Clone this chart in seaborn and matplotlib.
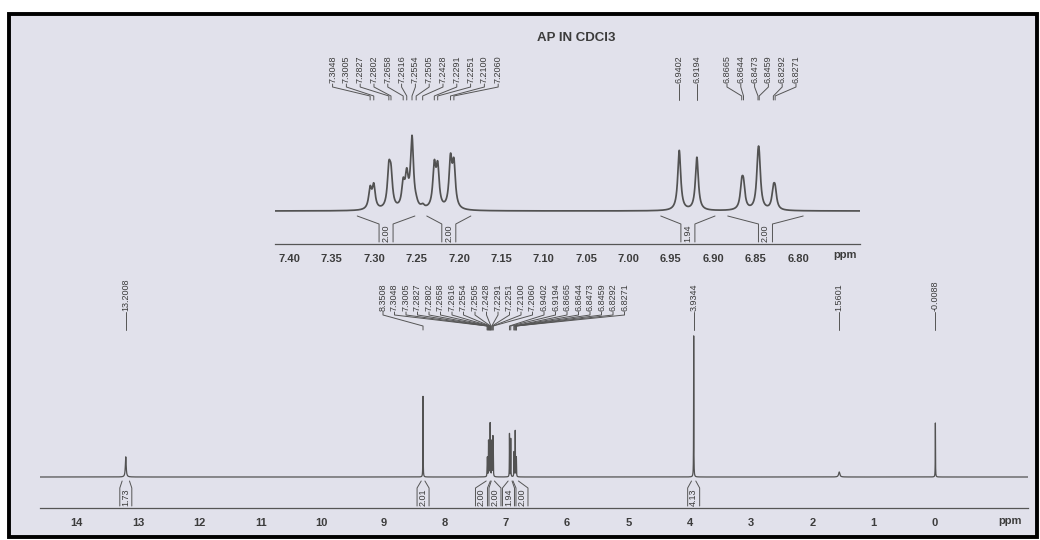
import numpy as np
import pandas as pd
import matplotlib
matplotlib.use("Agg")
import matplotlib.pyplot as plt
from matplotlib.patches import Rectangle
from matplotlib.ticker import MultipleLocator, FormatStrFormatter
import seaborn as sns

# ----------------------------------------------------------------------
# peak list (shift ppm, height, half width ppm)
# ----------------------------------------------------------------------
shifts = [13.2008, 8.3508,
          7.3048, 7.3005, 7.2827, 7.2802, 7.2658, 7.2616, 7.2554,
          7.2505, 7.2428, 7.2291, 7.2251, 7.2100, 7.2060,
          6.9402, 6.9194, 6.8665, 6.8644, 6.8473, 6.8459, 6.8292, 6.8271,
          3.9344, 1.5601, -0.0088]
heights = [28, 112,
           20, 23, 36, 30, 23, 30, 70,
           3, 3, 41, 39, 47, 42,
           60, 53, 22, 21, 36, 35, 17, 17,
           196, 7, 75]
halfwidths = [0.008, 0.0021,
              0.0021, 0.0021, 0.0021, 0.0021, 0.0021, 0.0021, 0.0021,
              0.0021, 0.0021, 0.0021, 0.0021, 0.0021, 0.0021,
              0.0021, 0.0021, 0.0021, 0.0021, 0.0021, 0.0021, 0.0021, 0.0021,
              0.0021, 0.012, 0.0021]

# integrals (start ppm, end ppm, value)
main_int_start = [13.26, 8.38, 7.320, 7.238, 6.962, 6.883, 3.97]
main_int_end = [13.14, 8.32, 7.252, 7.186, 6.898, 6.794, 3.90]
main_int_val = ["1.73", "2.01", "2.00", "2.00", "1.94", "2.00", "4.13"]

zoom_int_start = [7.320, 7.238, 6.962, 6.883]
zoom_int_end = [7.252, 7.186, 6.898, 6.794]
zoom_int_val = ["2.00", "2.00", "1.94", "2.00"]

title = "AP IN CDCl3"
zoom_lo, zoom_hi = 6.727, 7.417
main_lo, main_hi = -1.52, 14.60

INK = "#3c3c3c"
LINE = "#525252"
PAPER = "#e1e1eb"


def spectrum(lo, hi, step):
    x = np.concatenate([np.arange(lo, hi, step),
                        [s for s in shifts if lo < s < hi]])
    x = np.sort(x)[::-1]
    y = np.zeros_like(x)
    for s, h, w in zip(shifts, heights, halfwidths):
        y += h / (1 + ((x - s) / w) ** 2)
    return pd.DataFrame({"ppm": x, "intensity": y})


def spread(xs, gap, offset=0.0):
    # place labels in px so that neighbours are at least `gap` apart
    xs = list(xs)
    groups = [[i] for i in np.argsort(xs)]
    while True:
        spans = []
        for g in groups:
            c = np.mean([xs[i] for i in g])
            if len(g) > 1:
                c += offset
            s = c - gap * (len(g) - 1) / 2
            spans.append((s, s + gap * (len(g) - 1)))
        for k in range(len(groups) - 1):
            if spans[k + 1][0] - spans[k][1] < gap:
                groups[k] = groups[k] + groups.pop(k + 1)
                break
        else:
            break
    out = np.zeros(len(xs))
    for g, (s, _) in zip(groups, spans):
        for j, i in enumerate(g):
            out[i] = s + gap * j
    return out


sns.set_style("white")
plt.rcParams["font.family"] = ["Liberation Sans", "DejaVu Sans"]
NARROW = ["Liberation Sans Narrow", "Liberation Sans", "DejaVu Sans"]

fig = plt.figure(figsize=(10.4, 5.4), dpi=100, facecolor="white")

# scanned paper with black frame
bg = fig.add_axes([0, 0, 1, 1], zorder=-2)
bg.set_xlim(0, 1040)
bg.set_ylim(540, 0)
bg.axis("off")
bg.add_patch(Rectangle((9, 14), 1028, 523, facecolor=PAPER,
                       edgecolor="black", lw=2.8))

# full spectrum, 1 unit = 0.72 px
ax = fig.add_axes([40 / 1040, 1 - 508 / 540, 988 / 1040, 208 / 540])
sns.lineplot(data=spectrum(main_lo, main_hi, 0.0005), x="ppm", y="intensity",
             ax=ax, color=LINE, lw=0.9, estimator=None, sort=False)
ax.set_xlim(main_hi, main_lo)
ax.set_ylim(-31 / 0.72, 177 / 0.72)

# expansion of the aromatic region
axz = fig.add_axes([275 / 1040, 1 - 244 / 540, 585 / 1040, 134 / 540])
sns.lineplot(data=spectrum(zoom_lo, zoom_hi, 0.0001), x="ppm", y="intensity",
             ax=axz, color=LINE, lw=1.25, estimator=None, sort=False)
axz.set_xlim(zoom_hi, zoom_lo)
axz.set_ylim(-33, 101)

for a, major, minor, fmt in [(ax, 1, 0.1, "%d"), (axz, 0.05, 0.01, "%.2f")]:
    a.set_facecolor("none")
    for side in ["top", "left", "right"]:
        a.spines[side].set_visible(False)
    a.spines["bottom"].set_color("#555555")
    a.spines["bottom"].set_linewidth(0.9)
    a.set_xlabel("")
    a.set_ylabel("")
    a.set_yticks([])
    a.xaxis.set_major_locator(MultipleLocator(major))
    a.xaxis.set_minor_locator(MultipleLocator(minor))
    a.xaxis.set_major_formatter(FormatStrFormatter(fmt))
    a.tick_params(axis="x", which="major", direction="out", length=4,
                  width=0.8, color="#555555", pad=3, labelsize=8,
                  labelcolor=INK)
    a.tick_params(axis="x", which="minor", direction="out", length=2,
                  width=0.6, color="#555555")
    for t in a.get_xticklabels():
        t.set_fontweight("bold")

# only the printed scale values get labels
axz.set_xticks([t for t in np.arange(6.80, 7.401, 0.05)])
ax.set_xticks(range(0, 15))

# annotation layer in pixel coordinates
ov = fig.add_axes([0, 0, 1, 1], zorder=5)
ov.set_xlim(0, 1040)
ov.set_ylim(540, 0)
ov.axis("off")


def to_px(a, ppm):
    return a.transData.transform((ppm, 0))[0]


ov.text(576, 38, title, ha="center", va="center", fontsize=9.5,
        fontweight="bold", color=INK)
ov.text(845, 255, "ppm", ha="center", va="center", fontsize=8,
        fontweight="bold", color=INK)
ov.text(1010, 521, "ppm", ha="center", va="center", fontsize=8,
        fontweight="bold", color=INK)


def peak_labels(a, sel, gap, y_text, y_end, offset=0.0):
    px = [to_px(a, s) for s in sel]
    lx = spread(px, gap, offset)
    for s, p, l in zip(sel, px, lx):
        ov.plot([l, l, p, p], [y_text + 1, y_text + 4, y_end - 4, y_end],
                color="#555555", lw=0.7)
        ov.text(l, y_text, f"{s:.4f}", rotation=90, ha="center", va="bottom",
                fontsize=6.5, family=NARROW, color=INK)


peak_labels(axz, [s for s in shifts if zoom_lo < s < zoom_hi], 13.8, 83, 100,
            offset=3)
peak_labels(ax, shifts, 11.5, 311, 330, offset=8)


def integrals(a, starts, ends, vals, gap, y0, y1, y2, w):
    mids = [(to_px(a, s) + to_px(a, e)) / 2 for s, e in zip(starts, ends)]
    centers = spread(mids, gap)
    for s, e, v, c in zip(starts, ends, vals, centers):
        xa, xb = to_px(a, s), to_px(a, e)
        ov.plot([xa, c - w, c - w], [y0, y1, y2], color="#555555", lw=0.7)
        ov.plot([xb, c + w, c + w], [y0, y1, y2], color="#555555", lw=0.7)
        ov.text(c, (y1 + y2) / 2, v, rotation=90, ha="center", va="center",
                fontsize=6.5, family=NARROW, color=INK)


integrals(axz, zoom_int_start, zoom_int_end, zoom_int_val, 20, 216, 224, 242, 7)
integrals(ax, main_int_start, main_int_end, main_int_val, 13.5, 481, 488, 506, 6)

fig.savefig("out.png", dpi=100, facecolor="white")
